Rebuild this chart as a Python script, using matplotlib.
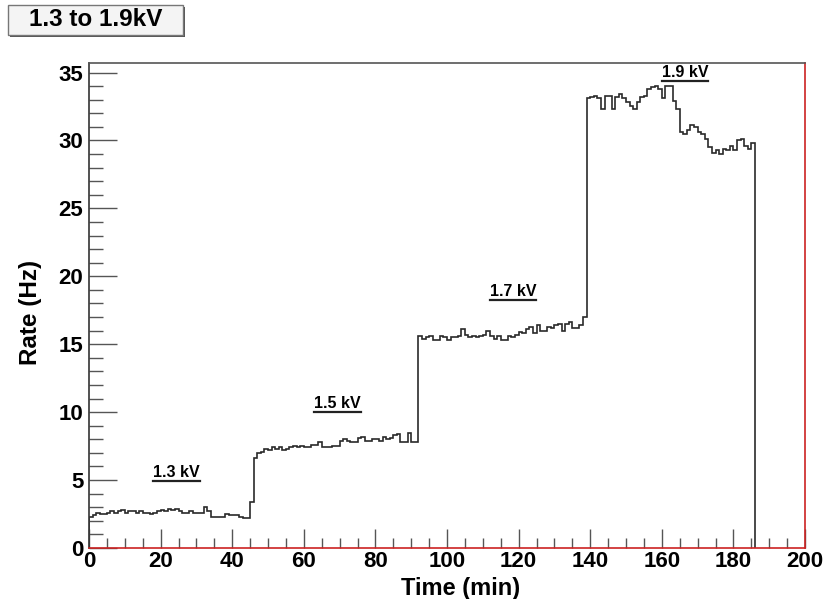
import numpy as np
import matplotlib
matplotlib.use("Agg")
import matplotlib.pyplot as plt
from matplotlib.patches import Rectangle
from matplotlib.ticker import MultipleLocator

plt.rcParams['font.family'] = ['Liberation Sans', 'DejaVu Sans']
plt.rcParams['font.weight'] = 'bold'

# --- rate per 1 min bin, one list per HV setting ---
bin_width = 1.0
rate_13kv = [2.3, 2.4, 2.6, 2.5, 2.5, 2.6, 2.7, 2.6, 2.7, 2.8,
             2.6, 2.7, 2.7, 2.6, 2.7, 2.6, 2.6, 2.5, 2.6, 2.7,
             2.8, 2.7, 2.9, 2.8, 2.9, 2.7, 2.6, 2.6, 2.7, 2.6,
             2.6, 2.6, 3.0, 2.7, 2.3, 2.3, 2.3, 2.3, 2.5, 2.4,
             2.4, 2.4, 2.3, 2.2, 2.2, 3.4]
rate_15kv = [6.6, 7.0, 7.1, 7.3, 7.2, 7.4, 7.3, 7.4, 7.2, 7.3,
             7.4, 7.5, 7.4, 7.5, 7.4, 7.4, 7.6, 7.6, 7.8, 7.4,
             7.4, 7.4, 7.5, 7.5, 7.9, 8.0, 7.9, 7.8, 7.8, 8.1,
             8.2, 7.9, 7.9, 8.0, 8.0, 7.9, 8.2, 8.0, 8.1, 8.3,
             8.4, 7.8, 7.8, 8.5, 7.8, 7.8]
rate_17kv = [15.6, 15.4, 15.5, 15.6, 15.3, 15.3, 15.6, 15.5, 15.3, 15.5,
             15.5, 15.6, 16.1, 15.7, 15.5, 15.6, 15.5, 15.6, 15.7, 16.0,
             15.6, 15.4, 15.6, 15.3, 15.3, 15.6, 15.5, 15.7, 15.9, 15.8,
             16.1, 16.3, 15.8, 16.4, 16.0, 16.0, 16.3, 16.2, 16.4, 16.5,
             16.0, 16.5, 16.6, 16.2, 16.2, 16.4, 17.0]
rate_19kv = [33.1, 33.2, 33.3, 33.1, 32.3, 33.3, 33.3, 32.3, 33.2, 33.4,
             33.1, 32.8, 32.5, 32.3, 32.8, 33.2, 33.3, 33.8, 33.9, 34.0,
             33.8, 33.1, 34.0, 34.0, 32.9, 32.3, 30.6, 30.5, 30.8, 31.1,
             31.0, 30.6, 30.5, 30.1, 29.5, 29.1, 29.3, 29.0, 29.4, 29.3,
             29.6, 29.3, 30.0, 30.1, 29.6, 29.4, 29.8]

hv_labels = ['1.3 kV', '1.5 kV', '1.7 kV', '1.9 kV']
label_x = [24.5, 69.5, 118.5, 166.5]
label_y = [5.0, 10.1, 18.35, 34.45]

rate = np.array(rate_13kv + rate_15kv + rate_17kv + rate_19kv)
edges = np.arange(len(rate) + 1) * bin_width

fig = plt.figure(figsize=(8.26, 5.99), dpi=100)
ax = fig.add_axes([89 / 826, 1 - 548 / 599, (805 - 89) / 826, (548 - 63) / 599])

ax.stairs(rate, edges, baseline=0, color='#2a2a2a', lw=1.2)

ax.set_xlim(0, 200)
ax.set_ylim(0, 35.7)
ax.xaxis.set_major_locator(MultipleLocator(20))
ax.xaxis.set_minor_locator(MultipleLocator(5))
ax.yaxis.set_major_locator(MultipleLocator(5))
ax.yaxis.set_minor_locator(MultipleLocator(1))
ax.tick_params(axis='x', which='major', direction='in', length=14, width=1,
               color='#555555', labelsize=16, pad=2)
ax.tick_params(axis='x', which='minor', direction='in', length=7, width=1,
               color='#555555')
ax.tick_params(axis='y', which='major', direction='in', length=20, width=1,
               color='#555555', labelsize=16, pad=4)
ax.tick_params(axis='y', which='minor', direction='in', length=10, width=1,
               color='#555555')

ax.spines['left'].set_color('#333333')
ax.spines['top'].set_color('#555555')
ax.spines['right'].set_color('#cc2222')
ax.spines['bottom'].set_color('#cc2222')
for s in ax.spines.values():
    s.set_linewidth(1.2)

fig.text(461 / 826, 1 - 588 / 599, 'Time (min)', ha='center', va='center',
         fontsize=17, fontweight='bold')
fig.text(31 / 826, 1 - 312 / 599, 'Rate (Hz)', ha='center', va='center',
         rotation=90, fontsize=17.5, fontweight='bold')

# HV setting labels, underlined
texts = []
for lab, x, y in zip(hv_labels, label_x, label_y):
    texts.append(ax.text(x, y, lab, ha='center', va='bottom', fontsize=11.5,
                         fontweight='bold'))
fig.canvas.draw()
inv = ax.transData.inverted()
for t in texts:
    bb = t.get_window_extent()
    (x0, y0), (x1, _) = inv.transform([[bb.x0, bb.y0 - 1], [bb.x1, bb.y0]])
    ax.plot([x0, x1], [y0, y0], color='#222222', lw=1.6, clip_on=False)

# title box with shadow
fig.patches.append(Rectangle((10 / 826, 1 - 37 / 599), 175 / 826, 30 / 599,
                             transform=fig.transFigure, facecolor='#555555',
                             edgecolor='none', zorder=1))
fig.patches.append(Rectangle((8 / 826, 1 - 35 / 599), 175 / 826, 30 / 599,
                             transform=fig.transFigure, facecolor='#f4f4f4',
                             edgecolor='#777777', lw=1, zorder=2))
fig.text(96 / 826, 1 - 20 / 599, '1.3 to 1.9kV', ha='center', va='center',
         fontsize=17.5, fontweight='bold', zorder=3)

fig.savefig('out.png', dpi=100)
